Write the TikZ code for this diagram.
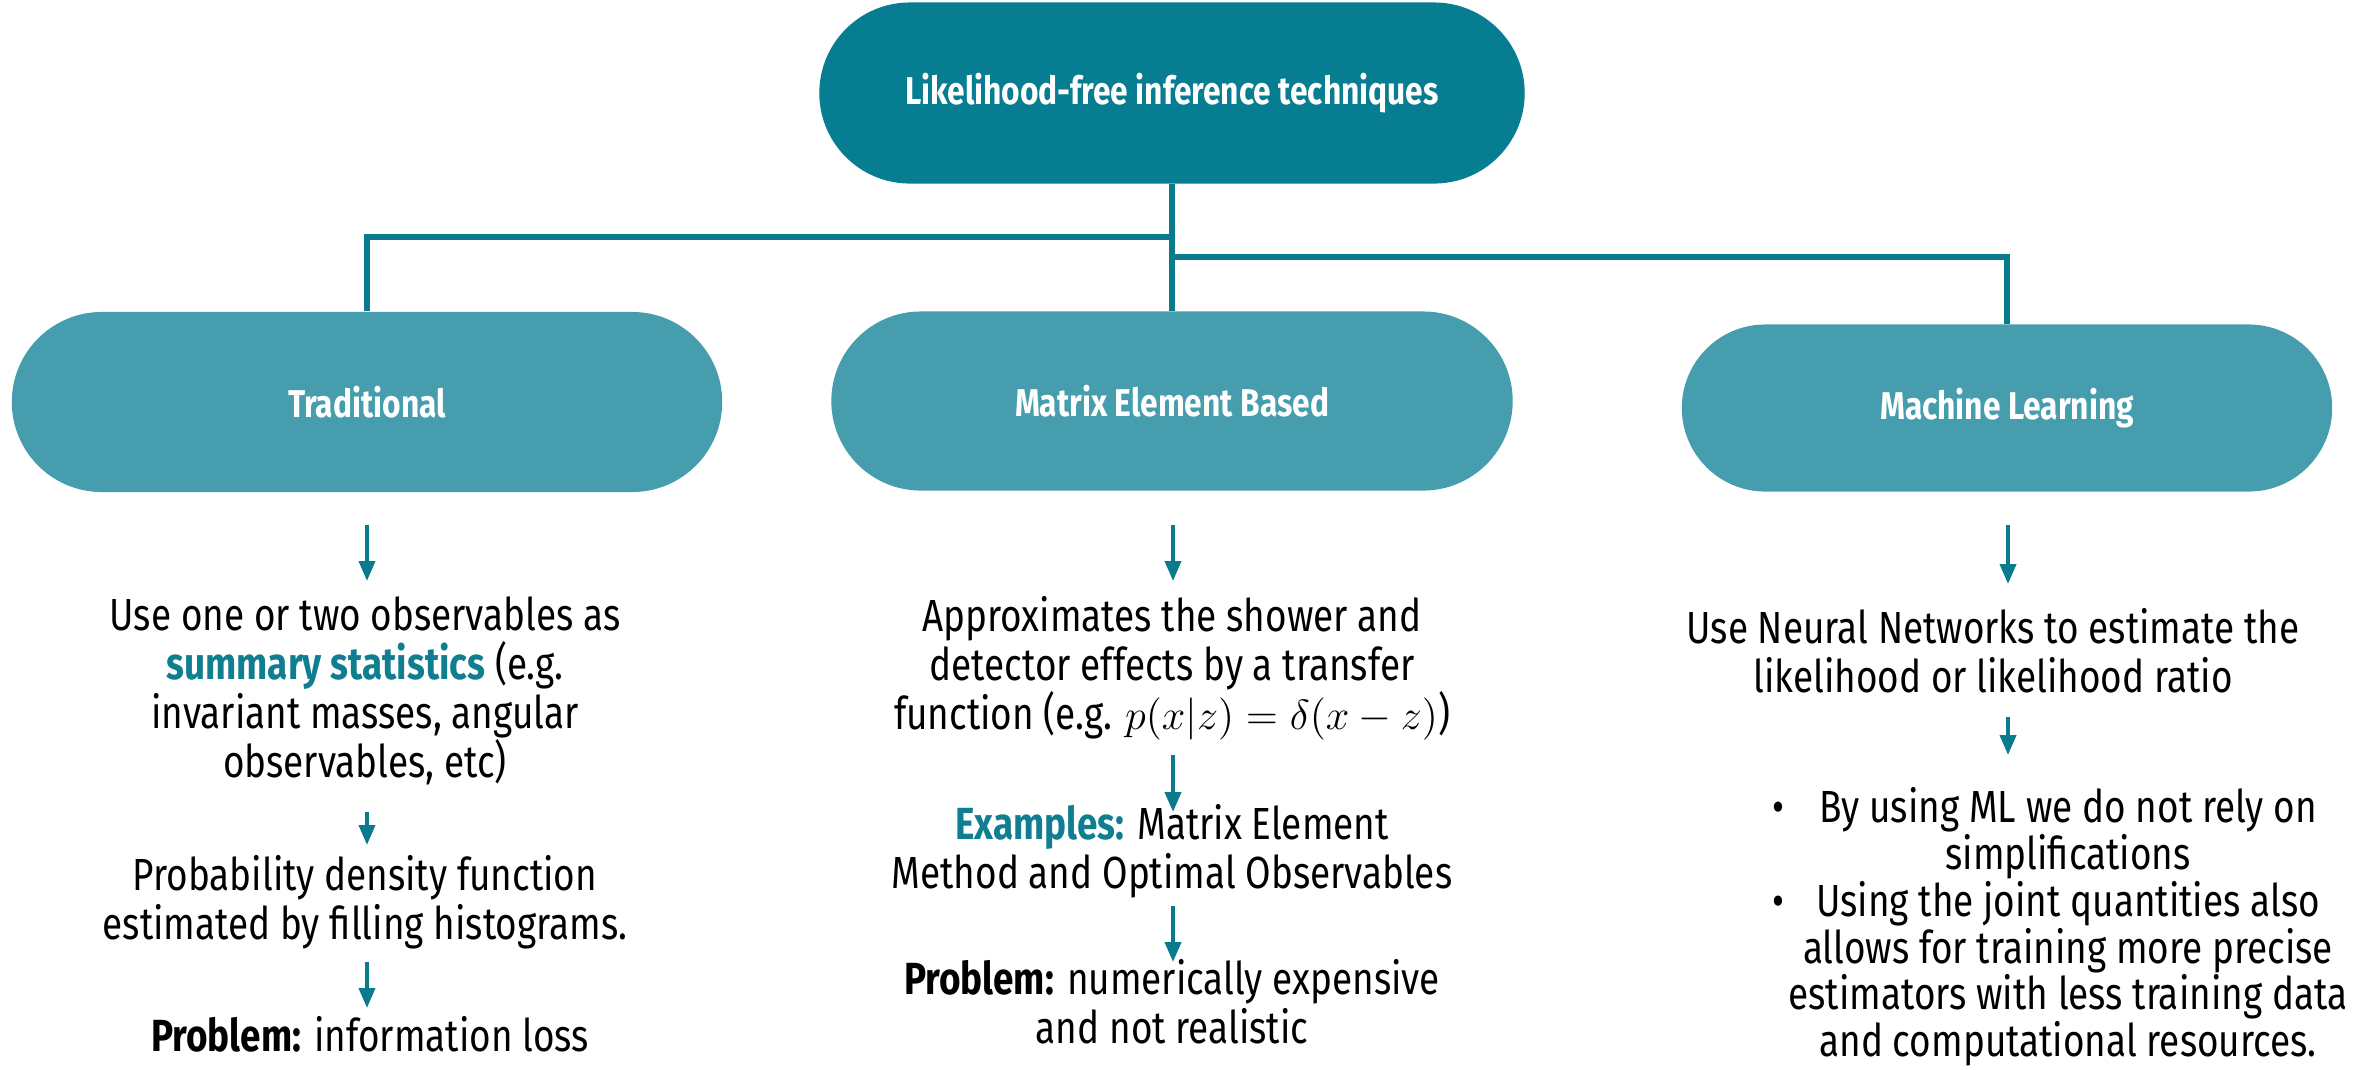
\documentclass[tikz,border=0pt]{standalone}
\usepackage{fontspec}
\setmainfont{Fira Sans}[FakeStretch=0.82]
\usetikzlibrary{shapes.misc,arrows.meta}
\definecolor{topc}{HTML}{067D90}
\definecolor{subc}{HTML}{469DAE}
\definecolor{linec}{HTML}{0A7B8D}
\definecolor{tealtxt}{HTML}{0F7E90}
\begin{document}
\begin{tikzpicture}[x=0.01cm,y=-0.01cm,
  pillbase/.style={rounded rectangle, inner sep=0pt, text=white, font=\fontsize{11}{13}\selectfont\bfseries},
  toppill/.style={pillbase, fill=topc},
  subpill/.style={pillbase, fill=subc},
  body/.style={align=center, font=\fontsize{12.8}{13.9}\selectfont, inner sep=0pt, text=black},
  tree/.style={draw=linec, line width=1.6pt},
  arr/.style={draw=linec, line width=1.1pt, -{Triangle[length=0.2cm,width=0.16cm]}}]
\useasboundingbox (0,0) rectangle (2367,1069);

% pills
\node[toppill, minimum width=7.05cm, minimum height=1.81cm] (top) at (1172,93) {Likelihood-free inference techniques};
\node[subpill, minimum width=7.1cm, minimum height=1.8cm] (trad) at (367,402) {Traditional};
\node[subpill, minimum width=6.81cm, minimum height=1.79cm] (mat) at (1172,401) {Matrix Element Based};
\node[subpill, minimum width=6.5cm, minimum height=1.67cm] (ml) at (2007,408) {Machine Learning};

% tree connectors
\coordinate (jl) at (1172,237);
\coordinate (jr) at (1172,257);
\draw[tree] (top.south) -- (mat.north);
\draw[tree] (jl) -| (trad.north);
\draw[tree] (jr) -| (ml.north);

% left column
\node[body] (t1) at (365,691) {Use one or two observables as\\ \textcolor{tealtxt}{\bfseries summary statistics} (e.g.\\ invariant masses, angular\\ observables, etc)};
\node[body] (t2) at (365,902) {Probability density function\\ estimated by filling histograms.};
\node[body] (t3) at (370,1034) {\textbf{Problem:} information loss};

% middle column
\node[body] (m1) at (1172,668) {Approximates the shower and\\ detector effects by a transfer\\ function (e.g. $p(x|z)=\delta(x-z)$)};
\node[body] (m2) at (1172,851) {\textcolor{tealtxt}{\bfseries Examples:} Matrix Element\\ Method and Optimal Observables};
\node[body] (m3) at (1172,1002) {\textbf{Problem:} numerically expensive\\ and not realistic};

% right column
\node[body] (r1) at (1993,651) {Use Neural Networks to estimate the\\ likelihood or likelihood ratio};
\node[body, font=\fontsize{12.8}{13.3}\selectfont] (r2) at (2068,927) {By using ML we do not rely on\\ simplifications\\ Using the joint quantities also\\ allows for training more precise\\ estimators with less training data\\ and computational resources.};
\node[body] (b1) at (1778,812) {\textbullet};
\node[body] (b2) at (1778,906) {\textbullet};

% arrows
\coordinate (la1) at (367,525); \coordinate (lb1) at (367,581);
\coordinate (la2) at (367,812); \coordinate (lb2) at (367,845);
\coordinate (la3) at (367,962); \coordinate (lb3) at (367,1008);
\coordinate (ma1) at (1173,525); \coordinate (mb1) at (1173,581);
\coordinate (ma2) at (1173,755); \coordinate (mb2) at (1173,812);
\coordinate (ma3) at (1173,906); \coordinate (mb3) at (1173,962);
\coordinate (ra1) at (2008,525); \coordinate (rb1) at (2008,584);
\coordinate (ra2) at (2008,717); \coordinate (rb2) at (2008,755);
\draw[arr] (la1) -- (lb1);
\draw[arr] (la2) -- (lb2);
\draw[arr] (la3) -- (lb3);
\draw[arr] (ma1) -- (mb1);
\draw[arr] (ma2) -- (mb2);
\draw[arr] (ma3) -- (mb3);
\draw[arr] (ra1) -- (rb1);
\draw[arr] (ra2) -- (rb2);
\end{tikzpicture}
\end{document}
